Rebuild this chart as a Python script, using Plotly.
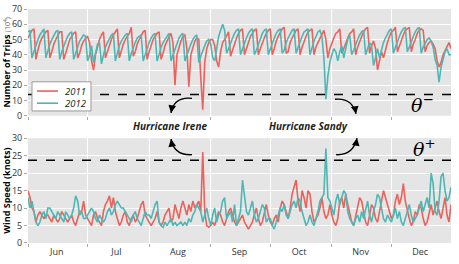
import pandas as pd
import plotly.graph_objects as go

# ---------------- data (daily, Jun 1 - Dec 31) ----------------
months = ["Jun", "Jul", "Aug", "Sep", "Oct", "Nov", "Dec"]
series_names = ["2011", "2012"]

trips_2011_jun = [51, 54, 56, 57, 37, 43, 48, 51, 53, 55, 56, 38, 42, 47, 50, 53, 55, 55, 37, 41, 46, 50, 52, 54, 55, 38, 41, 46, 49, 51]
trips_2011_jul = [52, 48, 36, 30, 40, 46, 50, 53, 55, 38, 42, 47, 50, 53, 55, 57, 38, 43, 47, 50, 52, 54, 58, 39, 42, 47, 50, 53, 55, 56, 37]
trips_2011_aug = [42, 46, 50, 52, 54, 55, 37, 41, 46, 49, 52, 54, 48, 20, 40, 45, 49, 52, 53, 44, 19, 40, 45, 49, 51, 50, 25, 4, 35, 44, 48]
trips_2011_sep = [50, 50, 46, 36, 32, 42, 48, 50, 53, 55, 39, 43, 48, 51, 54, 56, 57, 40, 44, 48, 52, 54, 56, 57, 40, 44, 48, 51, 54, 56]
trips_2011_oct = [57, 40, 44, 49, 52, 55, 57, 58, 41, 42, 48, 51, 54, 56, 57, 40, 45, 49, 52, 55, 56, 57, 40, 45, 48, 51, 54, 56, 50, 38, 44]
trips_2011_nov = [48, 51, 54, 55, 57, 41, 44, 48, 51, 54, 55, 57, 40, 45, 49, 52, 55, 57, 58, 41, 46, 49, 44, 30, 36, 42, 38, 44, 48, 52]
trips_2011_dec = [55, 56, 58, 42, 46, 50, 53, 56, 57, 58, 42, 47, 50, 54, 56, 57, 56, 42, 46, 48, 49, 47, 44, 36, 32, 35, 40, 43, 45, 48, 44]

trips_2012_jun = [55, 56, 38, 42, 47, 50, 53, 55, 57, 38, 43, 47, 50, 53, 55, 56, 37, 42, 46, 49, 52, 54, 55, 37, 41, 45, 49, 51, 53, 52]
trips_2012_jul = [36, 40, 46, 35, 42, 47, 48, 34, 40, 45, 48, 51, 53, 54, 36, 41, 46, 49, 51, 53, 54, 36, 41, 45, 48, 51, 52, 53, 36, 40, 45]
trips_2012_aug = [48, 51, 53, 54, 36, 40, 45, 48, 50, 52, 54, 36, 40, 44, 48, 51, 53, 54, 36, 40, 44, 47, 50, 52, 53, 35, 39, 43, 46, 49, 50]
trips_2012_sep = [47, 38, 36, 45, 52, 56, 60, 56, 41, 44, 48, 51, 54, 56, 57, 40, 44, 48, 51, 54, 56, 57, 40, 43, 47, 51, 54, 56, 57, 40]
trips_2012_oct = [44, 48, 51, 54, 56, 57, 41, 43, 48, 51, 54, 56, 57, 41, 45, 49, 52, 55, 56, 57, 40, 45, 49, 52, 55, 56, 52, 38, 11, 26, 35]
trips_2012_nov = [40, 44, 42, 36, 42, 46, 38, 44, 50, 53, 40, 43, 47, 50, 53, 55, 56, 40, 44, 48, 46, 33, 38, 44, 38, 43, 48, 51, 54, 56]
trips_2012_dec = [57, 41, 45, 49, 52, 55, 57, 58, 42, 45, 49, 52, 55, 57, 58, 41, 45, 48, 50, 51, 49, 45, 37, 33, 22, 32, 38, 42, 44, 40, 40]

wind_2011_jun = [15, 13, 10, 9, 6, 8, 9, 8, 7, 8, 8, 7, 6, 8, 7, 6, 7, 9, 8, 7, 6, 7, 8, 6, 5, 7, 9, 9, 12, 8]
wind_2011_jul = [7, 6, 5, 8, 9, 7, 6, 5, 9, 11, 12, 13.5, 10, 13, 9, 7, 5, 6, 8, 9, 6, 5, 7, 8, 6, 7, 9, 11, 12, 8, 7]
wind_2011_aug = [6, 5, 6, 7, 9, 6, 5, 6, 8, 9, 10, 6, 7, 11, 9, 7, 10, 12, 10, 8, 11, 9, 12, 10, 11, 12, 9, 26, 9, 5, 4.5]
wind_2011_sep = [5, 6, 5, 7, 9, 8, 6, 5, 7, 9, 10, 8, 6, 5, 6, 7, 8, 6, 5, 4, 5, 6, 8, 10, 7, 5, 6, 9, 11, 8]
wind_2011_oct = [6, 5, 7, 8, 6, 10, 12, 11, 9, 7, 10, 14, 16, 18, 12, 9, 15, 13, 10, 15, 14, 9, 6, 7, 8, 10, 13, 9, 7, 8, 11]
wind_2011_nov = [8, 6, 5, 7, 12, 13, 10, 14, 11, 8, 6, 5, 8, 10, 13, 12, 9, 6, 5, 8, 11, 10, 7, 6, 9, 12, 15, 13, 11, 9]
wind_2011_dec = [7, 8, 12, 14, 11, 13, 17, 12, 9, 7, 5, 6, 9, 8, 11, 10, 7, 5, 6, 9, 11, 8, 10, 12, 9, 7, 10, 13, 8, 6, 11]

wind_2012_jun = [13, 10, 12, 9, 6, 5, 6, 8, 9, 7, 10, 10, 9, 8, 7, 9, 8, 7, 6, 9, 8, 7, 8, 10, 13.5, 12, 8, 9, 7, 7]
wind_2012_jul = [8, 9, 10, 9, 7, 6, 8, 7, 6, 7, 9, 10, 8, 9, 11, 12, 11, 10, 10, 9, 8, 7, 6, 8, 9, 7, 6, 5, 7, 9, 8]
wind_2012_aug = [8, 7, 9, 11, 12, 6, 5, 4.5, 6, 5, 6, 7, 5, 6, 5, 5.5, 6, 5, 6, 5, 7, 6, 8, 9, 11, 10, 9, 6, 8, 10, 7]
wind_2012_sep = [5, 8, 10, 6, 8, 9, 12, 13, 7, 8, 9, 6, 11, 5, 7, 9, 18, 14, 9, 8, 10, 12, 8, 6, 7, 9, 11, 10, 6, 7]
wind_2012_oct = [7, 5, 4, 6, 8, 10, 9, 11, 8, 7, 9, 11, 12, 10, 13, 12, 9, 7, 5, 6, 8, 6, 5, 7, 9, 12, 13, 14, 27, 13, 12]
wind_2012_nov = [10, 8, 12, 14, 11, 13, 15, 14, 9, 7, 6, 5, 7, 8, 6, 9, 7, 10, 12, 8, 6, 9, 11, 14, 13, 10, 7, 6, 8, 7]
wind_2012_dec = [6, 8, 10, 7, 9, 6, 5, 7, 9, 11, 8, 6, 7, 8, 10, 12, 9, 11, 13, 10, 20, 17, 9, 8, 12, 19, 20, 15, 12, 13, 16]

theta_minus = 14      # trips threshold (10^4)
theta_plus = 23.7     # wind threshold (knots)

trips_2011 = trips_2011_jun + trips_2011_jul + trips_2011_aug + trips_2011_sep + trips_2011_oct + trips_2011_nov + trips_2011_dec
trips_2012 = trips_2012_jun + trips_2012_jul + trips_2012_aug + trips_2012_sep + trips_2012_oct + trips_2012_nov + trips_2012_dec
wind_2011 = wind_2011_jun + wind_2011_jul + wind_2011_aug + wind_2011_sep + wind_2011_oct + wind_2011_nov + wind_2011_dec
wind_2012 = wind_2012_jun + wind_2012_jul + wind_2012_aug + wind_2012_sep + wind_2012_oct + wind_2012_nov + wind_2012_dec

# common calendar (day-of-year axis) for overlaying both years
days = pd.date_range("2012-06-01", "2012-12-31", freq="D")
month_starts = pd.date_range("2012-06-01", "2012-12-01", freq="MS")
month_mids = [d + pd.Timedelta(days=14.5) for d in month_starts]

RED = "#ec625b"
TEAL = "#4db7b5"
COLORS = [RED, TEAL]
BG = "#e5e5e5"
FONT = "Open Sans"

fig = go.Figure()
fig.add_trace(go.Scatter(x=days, y=trips_2011, mode="lines", name="2011", showlegend=False,
                         line=dict(color=RED, width=1.6), xaxis="x", yaxis="y"))
fig.add_trace(go.Scatter(x=days, y=trips_2012, mode="lines", name="2012", showlegend=False,
                         line=dict(color=TEAL, width=1.6), xaxis="x", yaxis="y"))
fig.add_trace(go.Scatter(x=days, y=wind_2011, mode="lines", name="2011", showlegend=False,
                         line=dict(color=RED, width=1.6), xaxis="x2", yaxis="y2"))
fig.add_trace(go.Scatter(x=days, y=wind_2012, mode="lines", name="2012", showlegend=False,
                         line=dict(color=TEAL, width=1.6), xaxis="x2", yaxis="y2"))

xrange = [pd.Timestamp("2012-06-01"), pd.Timestamp("2012-12-31")]
xcommon = dict(range=xrange, tickvals=month_mids, ticktext=months, ticks="", showgrid=False,
               zeroline=False, showline=False, ticklabelstandoff=2,
               minor=dict(tickvals=list(month_starts), showgrid=True, gridcolor="white", gridwidth=1,
                          ticks="outside", ticklen=3, tickcolor="#aaa"),
               tickfont=dict(family=FONT, size=9, color="#333"))

ycommon = dict(showgrid=True, gridcolor="white", gridwidth=1, zeroline=False, showline=False,
               ticks="outside", ticklen=3, tickcolor="#aaa",
               tickfont=dict(family=FONT, size=9, color="#333"))

L, R, T, B = 28, 8, 2, 21
W, H = 459, 264
pw, ph = W - L - R, H - T - B

def px(x):
    return (x - L) / pw

def py(y):
    return (H - B - y) / ph

fig.update_layout(
    width=W, height=H,
    margin=dict(l=L, r=R, t=T, b=B),
    paper_bgcolor="white", plot_bgcolor=BG,
    xaxis=dict(**xcommon, domain=[0, 1], anchor="y", showticklabels=False, matches="x2"),
    xaxis2=dict(**xcommon, domain=[0, 1], anchor="y2"),
    yaxis=dict(**ycommon, domain=[py(112), 1], range=[0, 70], dtick=10,
               title=dict(text="<b>Number of Trips</b> <span style='font-size:7px;color:#666'>(10<sup>4</sup>)</span>",
                          font=dict(family=FONT, size=9, color="black"), standoff=4)),
    yaxis2=dict(**ycommon, domain=[0, py(135)], range=[0, 30], dtick=5,
                title=dict(text="<b>Wind Speed (knots)</b>",
                           font=dict(family=FONT, size=9, color="black"), standoff=4)),
    showlegend=False,
)

# threshold lines
fig.add_shape(type="line", xref="x domain", yref="y", x0=0, x1=1, y0=theta_minus, y1=theta_minus,
              line=dict(color="black", width=1.5, dash="dash"))
fig.add_shape(type="line", xref="x2 domain", yref="y2", x0=0, x1=1, y0=theta_plus, y1=theta_plus,
              line=dict(color="black", width=1.5, dash="dash"))

# custom compact legend (box, line samples, italic labels)
fig.add_shape(type="rect", xref="paper", yref="paper", x0=px(32), x1=px(91), y0=py(107), y1=py(77),
              fillcolor="white", line=dict(color="#999", width=1), layer="above")
for i, (nm, col) in enumerate(zip(series_names, COLORS)):
    yy = 86.5 + 12.5 * i
    fig.add_shape(type="line", xref="paper", yref="paper", x0=px(37), x1=px(58), y0=py(yy), y1=py(yy),
                  line=dict(color=col, width=1.6), layer="above")
    fig.add_annotation(xref="paper", yref="paper", x=px(87), y=py(yy), xanchor="right",
                       text="<i>" + nm + "</i>", showarrow=False, borderpad=0,
                       font=dict(family=FONT, size=9.5, color="#222"))

# texts
fig.add_annotation(xref="paper", yref="paper", x=px(170), y=py(123), text="<b><i>Hurricane Irene</i></b>",
                   showarrow=False, font=dict(family=FONT, size=10, color="#222"))
fig.add_annotation(xref="paper", yref="paper", x=px(350), y=py(123), text="<b><i>Hurricane Sandy</i></b>",
                   showarrow=False, font=dict(family=FONT, size=10, color="#222"))
fig.add_annotation(xref="paper", yref="paper", x=px(436), y=py(100), text="<i>θ</i><sup>−</sup>",
                   showarrow=False, font=dict(family="DejaVu Serif", size=19, color="black"))
fig.add_annotation(xref="paper", yref="paper", x=px(438), y=py(145), text="<i>θ</i><sup>+</sup>",
                   showarrow=False, font=dict(family="DejaVu Serif", size=19, color="black"))

# curved arrows (quadratic bezier in paper coords) + arrowheads
def curve(p0, c, p1, head_dx, head_dy):
    path = "M {} {} Q {} {} {} {}".format(px(p0[0]), py(p0[1]), px(c[0]), py(c[1]), px(p1[0]), py(p1[1]))
    fig.add_shape(type="path", xref="paper", yref="paper", path=path,
                  line=dict(color="black", width=1.4))
    fig.add_annotation(xref="paper", yref="paper", x=px(p1[0]), y=py(p1[1]), text="",
                       showarrow=True, axref="pixel", ayref="pixel", ax=head_dx, ay=head_dy,
                       arrowhead=2, arrowsize=1.1, arrowwidth=1.4, arrowcolor="black")

curve((192, 94), (174, 92), (171, 109), 1, -6)
curve((192, 152), (174, 153), (171, 136), 1, 6)
curve((335, 95), (352, 93), (356, 110), -1, -6)
curve((336, 152), (353, 153), (357, 135), -1, 6)

fig.write_html("out.html")
